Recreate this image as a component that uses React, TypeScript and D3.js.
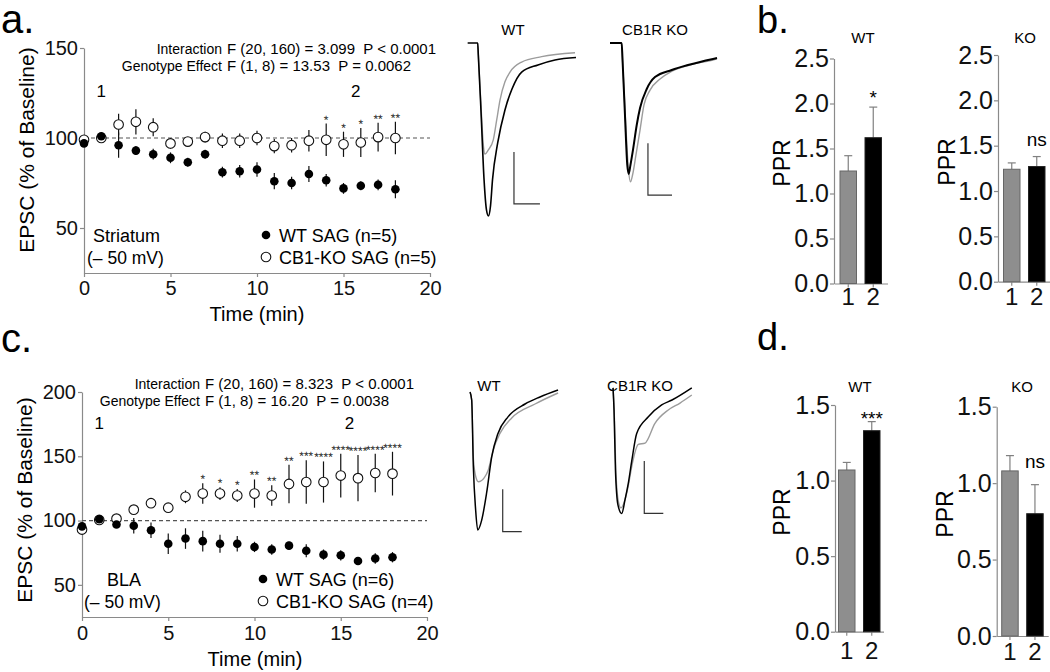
import React, { useEffect, useRef } from "react";
import * as d3 from "d3";

const FONT = "'Liberation Sans', Arial, Helvetica, sans-serif";
const AXIS = "#8a8a8a";
const GRAYBAR = "#8e8e8e";
const GRAYTRACE = "#9c9c9c";

// ---------- Time-course data ----------
const minutes = [0, 1, 2, 3, 4, 5, 6, 7, 8, 9, 10, 11, 12, 13, 14, 15, 16, 17, 18];
const timeTicks = [0, 5, 10, 15, 20];

// Panel a (Striatum)
const aYTicks = [50, 100, 150];
const aWT = [97, 101, 96, 93, 91, 89, 86.5, 91, 81, 81.5, 82.5, 76, 75, 80, 76.5, 72, 73.5, 74, 71.5];
const aWTErr = [1, 2, 7, 2.5, 3, 3, 2.5, 2.5, 3, 3.5, 4, 4.5, 3.5, 4.5, 3.5, 3, 2.5, 3, 5];
const aKO = [99, 100, 107.5, 109, 106, 97, 98, 100.5, 98.5, 98.5, 100, 95.5, 96, 98.5, 99, 96.5, 97.5, 100.5, 100];
const aKOErr = [1, 1.5, 6, 7, 5, 3, 2.5, 3, 4, 4, 4, 4, 4, 6, 9, 7, 8, 8, 9];
const aStars = ["", "", "", "", "", "", "", "", "", "", "", "", "", "", "*", "*", "*", "**", "**"];
const aStats = [
  ["Interaction", "F (20, 160) = 3.099  P < 0.0001"],
  ["Genotype Effect", "F (1, 8) = 13.53  P = 0.0062"],
];
const aLegend = ["WT SAG (n=5)", "CB1-KO SAG (n=5)"];
const aRegion = ["Striatum", "(\u2013 50 mV)"];

// Panel c (BLA)
const cYTicks = [50, 100, 150, 200];
const cWT = [95.5, 101, 97, 96, 92.5, 82, 86, 84, 82, 82, 79.5, 77.5, 80.5, 76.5, 73.5, 73, 68.5, 70.5, 71.5];
const cWTErr = [2, 1, 2, 6, 6, 8, 8, 8, 7, 6, 4, 4, 3, 5, 4, 4, 3, 4, 4];
const cKO = [93, 100.5, 101.5, 108.5, 113.5, 110, 118.5, 121, 121, 119.5, 121, 119.5, 128.5, 130, 130, 135, 133, 137, 136.5];
const cKOErr = [2, 1, 2, 3, 3, 3, 5, 8, 5, 5, 11, 8, 15, 17, 16, 17, 18, 15, 17];
const cStars = ["", "", "", "", "", "", "", "*", "*", "*", "**", "**", "**", "***", "****", "****", "****", "****", "****"];
const cStats = [
  ["Interaction", "F (20, 160) = 8.323  P < 0.0001"],
  ["Genotype Effect", "F (1, 8) = 16.20  P = 0.0038"],
];
const cLegend = ["WT SAG (n=6)", "CB1-KO SAG (n=4)"];
const cRegion = ["BLA", "(\u2013 50 mV)"];

// ---------- PPR bar data ----------
const barCats = ["1", "2"];
const bTicks = [0, 0.5, 1, 1.5, 2, 2.5];
const dTicks = [0, 0.5, 1, 1.5];
const bWT = [1.25, 1.62];
const bWTErr = [0.17, 0.34];
const bKO = [1.24, 1.27];
const bKOErr = [0.07, 0.11];
const dWT = [1.07, 1.33];
const dWTErr = [0.05, 0.06];
const dKO = [1.08, 0.8];
const dKOErr = [0.1, 0.19];

// ---------- Example traces: [time (a.u.), normalized amplitude] ----------
const aWTBlack: [number, number][] = [
  [0.6, 0], [9.7, 0], [10.3, -0.07], [12.7, -0.39], [15.5, -0.79], [17.7, -0.965], [19.5, -1.0],
  [21.4, -0.94], [23.2, -0.79], [27.9, -0.578], [34.5, -0.387], [40.9, -0.266], [49.7, -0.168],
  [64.5, -0.127], [80, -0.098], [99.1, -0.084],
];
const aWTGray: [number, number][] = [
  [9.7, 0], [10.3, -0.07], [12.7, -0.36], [15.0, -0.6], [16.4, -0.642], [19.4, -0.618], [23.9, -0.56],
  [27, -0.445], [30, -0.33], [34.5, -0.224], [39.1, -0.168], [49.7, -0.11], [67.9, -0.079], [98.2, -0.056],
];
const aKOBlack: [number, number][] = [
  [0, 0], [10.6, 0], [11.4, -0.098], [13.6, -0.416], [15.7, -0.705], [17, -0.757], [18.6, -0.705],
  [20.9, -0.618], [24.3, -0.474], [27.3, -0.376], [33.4, -0.266], [40.9, -0.197], [56.1, -0.156],
  [70.9, -0.127], [93.6, -0.092], [97.3, -0.087],
];
const aKOGray: [number, number][] = [
  [10.6, 0], [11.4, -0.098], [14.1, -0.445], [16.8, -0.734], [18.6, -0.803], [20.5, -0.763],
  [23.6, -0.647], [27.3, -0.503], [30.9, -0.358], [36.4, -0.272], [45.5, -0.208], [56.4, -0.162],
  [72.7, -0.127], [93.6, -0.098], [97.3, -0.092],
];
const cWTBlack: [number, number][] = [
  [6.4, 0], [7.9, -0.058], [9.4, -0.54], [11.5, -0.855], [13.4, -1.0], [17, -0.928], [21.5, -0.73],
  [26.1, -0.47], [31.8, -0.3], [40.9, -0.18], [56.4, -0.087], [70, -0.036], [86.4, 0.014],
];
const cWTGray: [number, number][] = [
  [6.4, 0], [7.9, -0.058], [9.5, -0.49], [11.8, -0.62], [13.9, -0.65], [19.4, -0.62], [23, -0.565],
  [27.5, -0.42], [33.6, -0.3], [44.3, -0.188], [65.5, -0.087], [86.4, -0.007],
];
const cKOBlack: [number, number][] = [
  [6.4, 0.03], [7.3, -0.13], [8.6, -0.565], [10.9, -0.82], [14.3, -0.88], [17.3, -0.78], [20.3, -0.66],
  [23.6, -0.49], [27.9, -0.3], [38.5, -0.18], [50.6, -0.094], [60, -0.058], [78, 0.03],
];
const cKOGray: [number, number][] = [
  [6.4, 0.03], [7.7, -0.2], [9.1, -0.6], [11.4, -0.8], [13.6, -0.84], [17.3, -0.78], [20.5, -0.67],
  [23.4, -0.54], [29.4, -0.38], [35.5, -0.37], [44.5, -0.227], [56.6, -0.13], [67.3, -0.08], [78, -0.022],
];

function Axis({ gen, transform, fontSize }: { gen: any; transform: string; fontSize: number }) {
  const ref = useRef<SVGGElement>(null);
  useEffect(() => {
    const g = d3.select(ref.current as SVGGElement);
    g.selectAll("*").remove();
    g.call(gen);
    g.attr("font-family", FONT).attr("font-size", fontSize);
    g.select(".domain").attr("stroke", AXIS).attr("stroke-width", 1.2);
    g.selectAll(".tick line").attr("stroke", AXIS).attr("stroke-width", 1.2);
    g.selectAll(".tick text").attr("fill", "#111");
  });
  return <g ref={ref} transform={transform} />;
}

type ScatterProps = {
  left: number; right: number; top: number; bottom: number; yMax: number; yTicks: number[];
  wt: number[]; wtErr: number[]; ko: number[]; koErr: number[]; stars: string[];
  stats: string[][]; statX: number; statY: number; legend: string[]; region: string[];
  legX: number; legY: number; regionX: number[]; labelX: number; labelY: number;
  num1: [number, number]; num2: [number, number]; xPad: number; timeY: number; timeX: number;
};

function Scatter(p: ScatterProps) {
  const x = d3.scaleLinear().domain([0, 20]).range([p.left, p.right]);
  const y = d3.scaleLinear().domain([25, p.yMax]).range([p.bottom, p.top]);
  return (
    <g fontFamily={FONT}>
      <Axis gen={d3.axisLeft(y).tickValues(p.yTicks).tickSize(4).tickPadding(2).tickSizeOuter(0)}
        transform={`translate(${p.left},0)`} fontSize={20} />
      <Axis gen={d3.axisBottom(x).tickValues(timeTicks).tickSize(4).tickPadding(p.xPad).tickSizeOuter(0)}
        transform={`translate(0,${p.bottom})`} fontSize={20} />
      <line x1={x(0)} x2={x(20)} y1={y(100)} y2={y(100)} stroke="#555" strokeDasharray="4 3" strokeWidth={1.2} />
      {minutes.map((m, i) => (
        <g key={"e" + i}>
          <line x1={x(m)} x2={x(m)} y1={y(p.ko[i] - p.koErr[i])} y2={y(p.ko[i] + p.koErr[i])} stroke="#111" strokeWidth={1.2} />
          <line x1={x(m)} x2={x(m)} y1={y(p.wt[i] - p.wtErr[i])} y2={y(p.wt[i] + p.wtErr[i])} stroke="#111" strokeWidth={1.2} />
        </g>
      ))}
      {minutes.map((m, i) => (
        <circle key={"o" + i} cx={x(m)} cy={y(p.ko[i])} r={4.8} fill="#fff" stroke="#111" strokeWidth={1.1} />
      ))}
      {minutes.map((m, i) => (
        <circle key={"f" + i} cx={x(m)} cy={y(p.wt[i])} r={4.3} fill="#000" />
      ))}
      {minutes.map((m, i) =>
        p.stars[i] ? (
          <text key={"s" + i} x={x(m)} y={y(p.ko[i] + p.koErr[i]) - 7 + 7} fontSize={12} textAnchor="middle"
            fill="#222" style={{ textRendering: "geometricPrecision" }}>
            {p.stars[i]}
          </text>
        ) : null
      )}
      {p.stats.map((s, i) => (
        <g key={"st" + i}>
          <text x={p.statX} y={p.statY + i * 17} fontSize={14} textAnchor="end">{s[0]}</text>
          <text x={p.statX + 5} y={p.statY + i * 17} fontSize={15} style={{ whiteSpace: "pre" }}>{s[1]}</text>
        </g>
      ))}
      <text x={x(p.num1[0])} y={p.num1[1]} fontSize={17} textAnchor="middle">1</text>
      <text x={x(p.num2[0])} y={p.num2[1]} fontSize={17} textAnchor="middle">2</text>
      <circle cx={p.legX} cy={p.legY} r={4.3} fill="#000" />
      <circle cx={p.legX} cy={p.legY + 22} r={4.8} fill="#fff" stroke="#111" strokeWidth={1.1} />
      <text x={p.legX + 13} y={p.legY + 6.5} fontSize={18}>{p.legend[0]}</text>
      <text x={p.legX + 13} y={p.legY + 28.5} fontSize={18}>{p.legend[1]}</text>
      <text x={p.regionX[0]} y={p.legY + 6.5} fontSize={18}>{p.region[0]}</text>
      <text x={p.regionX[1]} y={p.legY + 28.5} fontSize={17.5}>{p.region[1]}</text>
      <text transform={`translate(${p.labelX},${p.labelY}) rotate(-90)`} fontSize={21} textAnchor="middle">
        EPSC (% of Baseline)
      </text>
      <text x={p.timeX} y={p.timeY} fontSize={20} textAnchor="middle">Time (min)</text>
    </g>
  );
}

type BarProps = {
  axisX: number; offset: number; top: number; bottom: number; yMax: number; ticks: number[];
  vals: number[]; errs: number[]; title: string; titleX: number; titleY: number;
  mark: string; markY: number; markSize: number; pprX: number; pprY: number; xPad: number;
};

function Bars(p: BarProps) {
  const step = 25;
  const po = p.offset / step;
  const x = d3.scaleBand().domain(barCats).range([p.axisX, p.axisX + step * (1.66 + 2 * po)])
    .paddingInner(0.34).paddingOuter(po);
  const y = d3.scaleLinear().domain([0, p.yMax]).range([p.bottom, p.top]);
  const fills = [GRAYBAR, "#000"];
  const strokes = ["#666", "#222"];
  return (
    <g fontFamily={FONT}>
      <Axis gen={d3.axisLeft(y).tickValues(p.ticks).tickFormat(d3.format(".1f") as any).tickSize(4).tickPadding(1).tickSizeOuter(0)}
        transform={`translate(${p.axisX},0)`} fontSize={25} />
      <Axis gen={d3.axisBottom(x).tickSize(4).tickPadding(p.xPad).tickSizeOuter(0)}
        transform={`translate(0,${p.bottom})`} fontSize={24} />
      {barCats.map((c, i) => (
        <g key={c}>
          <line x1={(x(c) as number) + x.bandwidth() / 2} x2={(x(c) as number) + x.bandwidth() / 2}
            y1={y(p.vals[i])} y2={y(p.vals[i] + p.errs[i])} stroke="#808080" strokeWidth={1.2} />
          <line x1={(x(c) as number) + x.bandwidth() / 2 - 4} x2={(x(c) as number) + x.bandwidth() / 2 + 4}
            y1={y(p.vals[i] + p.errs[i])} y2={y(p.vals[i] + p.errs[i])} stroke="#808080" strokeWidth={1.2} />
          <rect x={x(c)} y={y(p.vals[i])} width={x.bandwidth()} height={y(0) - y(p.vals[i])}
            fill={fills[i]} stroke={strokes[i]} strokeWidth={1} />
        </g>
      ))}
      <text x={(x("2") as number) + x.bandwidth() / 2} y={p.markY} fontSize={p.markSize} textAnchor="middle">{p.mark}</text>
      <text x={p.titleX} y={p.titleY} fontSize={15} textAnchor="middle">{p.title}</text>
      <text transform={`translate(${p.pprX},${p.pprY}) rotate(-90)`} fontSize={23} textAnchor="middle">PPR</text>
    </g>
  );
}

type TraceProps = {
  x0: number; x1: number; y0: number; y1: number; black: [number, number][]; gray: [number, number][];
  bar: number[]; title: string; titleX: number; titleY: number; blackWidth: number;
};

function Trace(p: TraceProps) {
  const tx = d3.scaleLinear().domain([0, 100]).range([p.x0, p.x1]);
  const ty = d3.scaleLinear().domain([0, -1]).range([p.y0, p.y1]);
  const line = d3.line<[number, number]>().x((d) => tx(d[0])).y((d) => ty(d[1])).curve(d3.curveMonotoneX);
  const [bt, ba, bw, bh] = p.bar;
  const sb = `M${tx(bt)},${ty(ba + bh)}V${ty(ba)}H${tx(bt + bw)}`;
  return (
    <g fontFamily={FONT}>
      <path d={line(p.gray) || ""} fill="none" stroke={GRAYTRACE} strokeWidth={1.4} />
      <path d={line(p.black) || ""} fill="none" stroke="#000" strokeWidth={p.blackWidth} />
      <path d={sb} fill="none" stroke="#333" strokeWidth={1.2} />
      <text x={p.titleX} y={p.titleY} fontSize={15} textAnchor="middle">{p.title}</text>
    </g>
  );
}

export default function App() {
  return (
    <div style={{ position: "absolute", left: 0, top: 0 }}>
      <svg width={1050} height={672} style={{ display: "block", background: "#fff" }}>
        <text x={1} y={33} fontSize={40} fontFamily={FONT}>a.</text>
        <text x={757} y={33} fontSize={38} fontFamily={FONT}>b.</text>
        <text x={1} y={352} fontSize={40} fontFamily={FONT}>c.</text>
        <text x={757} y={350} fontSize={38} fontFamily={FONT}>d.</text>

        <Scatter left={84} right={430} top={48} bottom={273} yMax={150} yTicks={aYTicks}
          wt={aWT} wtErr={aWTErr} ko={aKO} koErr={aKOErr} stars={aStars}
          stats={aStats} statX={222} statY={54} legend={aLegend} region={aRegion}
          legX={266} legY={235} regionX={[93, 87]} labelX={34} labelY={150}
          num1={[1, 97]} num2={[15.7, 97]} xPad={4} timeX={257} timeY={321} />
        <Scatter left={82} right={427} top={392} bottom={617} yMax={200} yTicks={cYTicks}
          wt={cWT} wtErr={cWTErr} ko={cKO} koErr={cKOErr} stars={cStars}
          stats={cStats} statX={200} statY={389} legend={cLegend} region={cRegion}
          legX={263} legY={579} regionX={[107, 84]} labelX={32} labelY={500}
          num1={[1, 429]} num2={[15.5, 429]} xPad={5} timeX={255} timeY={666} />

        <Trace x0={467} x1={577} y0={43} y1={216} black={aWTBlack} gray={aWTGray}
          bar={[42.7, -0.93, 23.6, 0.3]} title="WT" titleX={513} titleY={35} blackWidth={1.6} />
        <Trace x0={610} x1={720} y0={43} y1={216} black={aKOBlack} gray={aKOGray}
          bar={[34.5, -0.879, 21.9, 0.3]} title="CB1R KO" titleX={655} titleY={35} blackWidth={2} />
        <Trace x0={463} x1={573} y0={392} y1={530} black={cWTBlack} gray={cWTGray}
          bar={[36.1, -1.012, 17.3, 0.307]} title="WT" titleX={489} titleY={391} blackWidth={1.5} />
        <Trace x0={606} x1={716} y0={392} y1={530} black={cKOBlack} gray={cKOGray}
          bar={[34.8, -0.879, 17.3, 0.379]} title="CB1R KO" titleX={640} titleY={391} blackWidth={1.5} />

        <Bars axisX={834} offset={6} top={58.5} bottom={283.5} yMax={2.5} ticks={bTicks}
          vals={bWT} errs={bWTErr} title="WT" titleX={863} titleY={43} mark="*" markY={104} markSize={19}
          pprX={790} pprY={163} xPad={0} />
        <Bars axisX={998} offset={5.5} top={55} bottom={281.7} yMax={2.5} ticks={bTicks}
          vals={bKO} errs={bKOErr} title="KO" titleX={1025} titleY={43} mark="ns" markY={146} markSize={19}
          pprX={955} pprY={162} xPad={2} />
        <Bars axisX={835} offset={3.5} top={405} bottom={631.7} yMax={1.5} ticks={dTicks}
          vals={dWT} errs={dWTErr} title="WT" titleX={860} titleY={392} mark="***" markY={424.5} markSize={19}
          pprX={790} pprY={512} xPad={6} />
        <Bars axisX={996.7} offset={5} top={406.7} bottom={636} yMax={1.5} ticks={dTicks}
          vals={dKO} errs={dKOErr} title="KO" titleX={1022} titleY={392} mark="ns" markY={468} markSize={19}
          pprX={953} pprY={514} xPad={3} />
      </svg>
    </div>
  );
}
